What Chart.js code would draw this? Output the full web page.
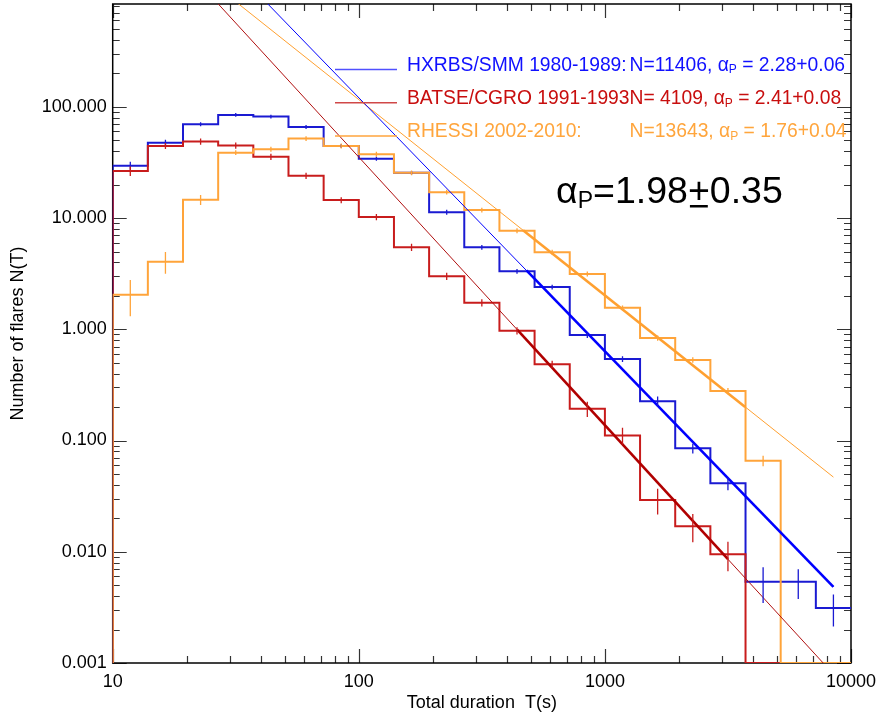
<!DOCTYPE html>
<html>
<head>
<meta charset="utf-8">
<script src="https://cdn.jsdelivr.net/npm/chart.js@4.4.0/dist/chart.umd.min.js"></script>
<style>
  body { margin: 0; background: #fff; }
  #wrap { width: 879px; height: 718px; }
</style>
</head>
<body>
<div id="wrap"><canvas id="flareChart"></canvas></div>
<script>
// duration bins, 7 per decade (s)
const binEdges = [10, 13.895, 19.307, 26.827, 37.276, 51.795, 71.969, 100, 138.95, 193.07, 268.27,
  372.76, 517.95, 719.69, 1000, 1389.5, 1930.7, 2682.7, 3727.6, 5179.5, 7196.9, 10000];
const binCenters = [11.79, 16.38, 22.76, 31.62, 43.94, 61.05, 84.83, 117.9, 163.8, 227.6, 316.2,
  439.4, 610.5, 848.3, 1179, 1638, 2276, 3162, 4394, 6105, 8483];

// HXRBS/SMM
const hxrbsN = [29.6, 47.6, 69.8, 84.6, 81.7, 65.9, 44.5, 34.2, 25.5, 11.3, 5.46, 3.32, 2.40, 0.889,
  0.541, 0.226, 0.0851, 0.0412, 0.00537, 0.00537, 0.00313];
const hxrbsErr = [2.4, 2.9, 2.8, 3.4, 3.3, 2.6, 1.8, 1.4, 1.0, 0.57, 0.27, 0.17, 0.12, 0.053, 0.032,
  0.023, 0.0085, 0.0054, 0.0019, 0.0016, 0.0010];
// BATSE/CGRO
const batseN = [26.5, 44.5, 48.7, 44.8, 35.6, 24.0, 14.5, 10.2, 5.46, 3.0, 1.73, 0.971, 0.485, 0.193,
  0.111, 0.0292, 0.0170, 0.00948, 0, 0, 0];
const batseErr = [2.6, 2.8, 3.1, 2.9, 2.3, 1.5, 0.9, 0.65, 0.41, 0.22, 0.13, 0.073, 0.036, 0.03, 0.019,
  0.0076, 0.0048, 0.0028, 0, 0, 0];
// RHESSI
const rhessiN = [2.04, 4.05, 14.6, 38.7, 41.6, 51.8, 44.5, 37.5, 25.5, 17.1, 11.8, 7.7, 4.93, 3.14,
  1.56, 0.835, 0.530, 0.279, 0.0658, 0, 0];
const rhessiErr = [0.73, 0.9, 1.5, 1.9, 2.1, 2.6, 2.2, 1.9, 1.3, 0.85, 0.6, 0.39, 0.25, 0.16, 0.08,
  0.045, 0.03, 0.018, 0.0072, 0, 0];

// power-law fits: [T, N] end points; thin = whole range, thick = fitted range
const hxrbsFitThin = [[11.79, 15800], [8483, 0.00484]];
const hxrbsFitThick = [[480, 3.38], [8483, 0.00484]];
const batseFitThin = [[11.79, 6110], [8483, 0.000794]];
const batseFitThick = [[440, 0.994], [3162, 0.00857]];
const rhessiFitThin = [[11.79, 5000], [8483, 0.0469]];
const rhessiFitThick = [[465, 7.77], [3715, 0.200]];

const xTicks = [10, 100, 1000, 10000];
const yTicks = [0.001, 0.01, 0.1, 1, 10, 100];
const Y_MIN = 0.001, Y_MAX = 840;

const legendRows = [
  {label: 'HXRBS/SMM 1980-1989: ', n: 'N=11406, ', alpha: ' = 2.28+0.06', color: '#1010ff', line: '#5050ff'},
  {label: 'BATSE/CGRO 1991-1993', n: 'N= 4109, ', alpha: ' = 2.41+0.08', color: '#c80e0e', line: '#d04848'},
  {label: 'RHESSI 2002-2010:', n: 'N=13643, ', alpha: ' = 1.76+0.04', color: '#ffa53c', line: '#ffa53c'}
];

const FONT = '"Liberation Sans", Arial, Helvetica, sans-serif';

// step curve: start on the floor at 10 s, then one point per bin edge
const stepData = function (values) {
  let pts = [{x: binEdges[0], y: Y_MIN}];
  for (let i = 0; i < values.length; i++) {
    pts.push({x: binEdges[i], y: values[i] > 0 ? values[i] : Y_MIN});
  }
  pts.push({x: binEdges[binEdges.length - 1], y: values[values.length - 1] > 0 ? values[values.length - 1] : Y_MIN});
  return pts;
};
const lineData = (pairs) => pairs.map(p => ({x: p[0], y: p[1]}));

const fitSet = (pairs, color, width) => ({
  data: lineData(pairs), borderColor: color, borderWidth: width, pointRadius: 0, fill: false, order: 0
});
const histSet = (values, color, order) => ({
  data: stepData(values), borderColor: color, borderWidth: 2, pointRadius: 0, fill: false,
  stepped: 'before', order: order
});

const series = [
  {values: hxrbsN, err: hxrbsErr, color: '#1a1ad2'},
  {values: batseN, err: batseErr, color: '#c81c1c'},
  {values: rhessiN, err: rhessiErr, color: '#ffa43a'}
];

// no extra room for end labels: plot box is fixed
const noPad = function (scale) {
  scale.paddingTop = 0; scale.paddingBottom = 0;
  scale.paddingLeft = 0; scale.paddingRight = 0;
};

// box with inward major/minor ticks on all four sides
const idlFrame = {
  id: 'idlFrame',
  beforeDatasetsDraw(chart) {
    const {ctx, chartArea: a, scales: {x, y}} = chart;
    const major = 14, minor = 7;
    ctx.save();
    ctx.strokeStyle = '#333';
    ctx.lineWidth = 1.2;
    ctx.beginPath();
    for (let d = 10; d <= 10000; d *= 10) {
      for (let m = 1; m <= 9; m++) {
        const v = d * m;
        if (v < 10 || v > 10000) continue;
        const px = Math.round(x.getPixelForValue(v)) + 0.5;
        const len = m === 1 ? major : minor;
        ctx.moveTo(px, a.bottom); ctx.lineTo(px, a.bottom - len);
        ctx.moveTo(px, a.top); ctx.lineTo(px, a.top + len);
      }
    }
    for (let d = 0.001; d <= 1000; d *= 10) {
      for (let m = 1; m <= 9; m++) {
        const v = d * m;
        if (v < Y_MIN * 0.999 || v > Y_MAX) continue;
        const py = Math.round(y.getPixelForValue(v)) + 0.5;
        const len = m === 1 ? major : minor;
        ctx.moveTo(a.left, py); ctx.lineTo(a.left + len, py);
        ctx.moveTo(a.right, py); ctx.lineTo(a.right - len, py);
      }
    }
    ctx.stroke();
    ctx.strokeStyle = '#000';
    ctx.lineWidth = 1.5;
    ctx.strokeRect(a.left, a.top, a.right - a.left, a.bottom - a.top);
    ctx.restore();
  }
};

// vertical error bars at bin centres
const errorBars = {
  id: 'errorBars',
  afterDatasetsDraw(chart) {
    const {ctx, scales: {x, y}} = chart;
    ctx.save();
    ctx.lineWidth = 1.3;
    series.forEach(s => {
      ctx.strokeStyle = s.color;
      ctx.beginPath();
      for (let i = 0; i < s.values.length; i++) {
        if (!(s.values[i] > 0)) continue;
        const px = x.getPixelForValue(binCenters[i]);
        const lo = Math.max(s.values[i] - s.err[i], Y_MIN);
        ctx.moveTo(px, y.getPixelForValue(s.values[i] + s.err[i]));
        ctx.lineTo(px, y.getPixelForValue(lo));
      }
      ctx.stroke();
    });
    ctx.restore();
  }
};

const drawAlphaP = function (ctx, x, yb, size) {
  ctx.font = size + 'px ' + FONT;
  ctx.fillText('\u03b1', x, yb);
  x += ctx.measureText('\u03b1').width;
  ctx.font = Math.round(size * 0.62) + 'px ' + FONT;
  ctx.fillText('P', x, yb + size * 0.12);
  x += ctx.measureText('P').width;
  ctx.font = size + 'px ' + FONT;
  return x;
};

const annotations = {
  id: 'annotations',
  afterDraw(chart) {
    const ctx = chart.ctx;
    const fs = 19.3;
    ctx.save();
    ctx.textBaseline = 'alphabetic';
    ctx.font = fs + 'px ' + FONT;
    const textX = 407;
    const nX = textX + ctx.measureText(legendRows[1].label).width;
    legendRows.forEach((r, i) => {
      const yb = 71 + i * 33.2;
      ctx.strokeStyle = r.line;
      ctx.lineWidth = 1.5;
      ctx.beginPath();
      ctx.moveTo(335, yb - 1.5); ctx.lineTo(397, yb - 1.5);
      ctx.stroke();
      ctx.fillStyle = r.color;
      ctx.font = fs + 'px ' + FONT;
      ctx.fillText(r.label, textX, yb);
      ctx.fillText(r.n, nX, yb);
      let x = nX + ctx.measureText(r.n).width;
      x = drawAlphaP(ctx, x, yb, fs);
      ctx.fillText(r.alpha, x, yb);
    });

    // overall slope
    ctx.fillStyle = '#000';
    let x = drawAlphaP(ctx, 556, 203, 37.5);
    ctx.fillText('=1.98', x, 203);
    x += ctx.measureText('=1.98').width;
    const pw = ctx.measureText('+').width;
    ctx.fillText('+', x, 203);
    ctx.fillRect(x + 2, 205, pw - 4, 2.5);
    ctx.fillText('0.35', x + pw, 203);
    ctx.restore();
  }
};

const chart = new Chart(document.getElementById('flareChart'), {
  type: 'line',
  data: {
    datasets: [
      fitSet(hxrbsFitThick, '#0000ff', 2.6),
      fitSet(batseFitThick, '#b00000', 2.6),
      fitSet(rhessiFitThick, '#ffa030', 2.6),
      fitSet(hxrbsFitThin, '#0000ff', 1),
      fitSet(batseFitThin, '#b01010', 1),
      fitSet(rhessiFitThin, '#ffa030', 1),
      histSet(hxrbsN, series[0].color, 30),
      histSet(batseN, series[1].color, 20),
      histSet(rhessiN, series[2].color, 10)
    ]
  },
  options: {
    responsive: true,
    maintainAspectRatio: false,
    animation: false,
    parsing: false,
    layout: { padding: { left: 0, top: 4, right: 28, bottom: 0 } },
    plugins: { legend: { display: false }, tooltip: { enabled: false } },
    scales: {
      x: {
        type: 'logarithmic',
        min: 10, max: 10000,
        afterBuildTicks: (scale) => { scale.ticks = xTicks.map(v => ({value: v})); },
        afterFit: (scale) => { scale.height = 55; noPad(scale); },
        grid: { display: false, drawTicks: false },
        border: { display: false },
        ticks: {
          autoSkip: false, maxRotation: 0, padding: 8, color: '#000',
          font: { family: FONT, size: 18 },
          callback: (v) => String(v)
        },
        title: {
          display: true, text: 'Total duration  T(s)', color: '#000',
          font: { family: FONT, size: 18 }, padding: { top: 0, bottom: 4 }
        }
      },
      y: {
        type: 'logarithmic',
        min: Y_MIN, max: Y_MAX,
        afterBuildTicks: (scale) => { scale.ticks = yTicks.map(v => ({value: v})); },
        afterFit: (scale) => { scale.width = 112.7; noPad(scale); },
        grid: { display: false, drawTicks: false },
        border: { display: false },
        ticks: {
          autoSkip: false, padding: 6, color: '#000',
          font: { family: FONT, size: 18 },
          callback: (v) => Number(v).toFixed(3)
        },
        title: {
          display: true, text: 'Number of flares N(T)', color: '#000',
          font: { family: FONT, size: 18 }, padding: { top: 7, bottom: 0 }
        }
      }
    }
  },
  plugins: [idlFrame, errorBars, annotations]
});
</script>
</body>
</html>
